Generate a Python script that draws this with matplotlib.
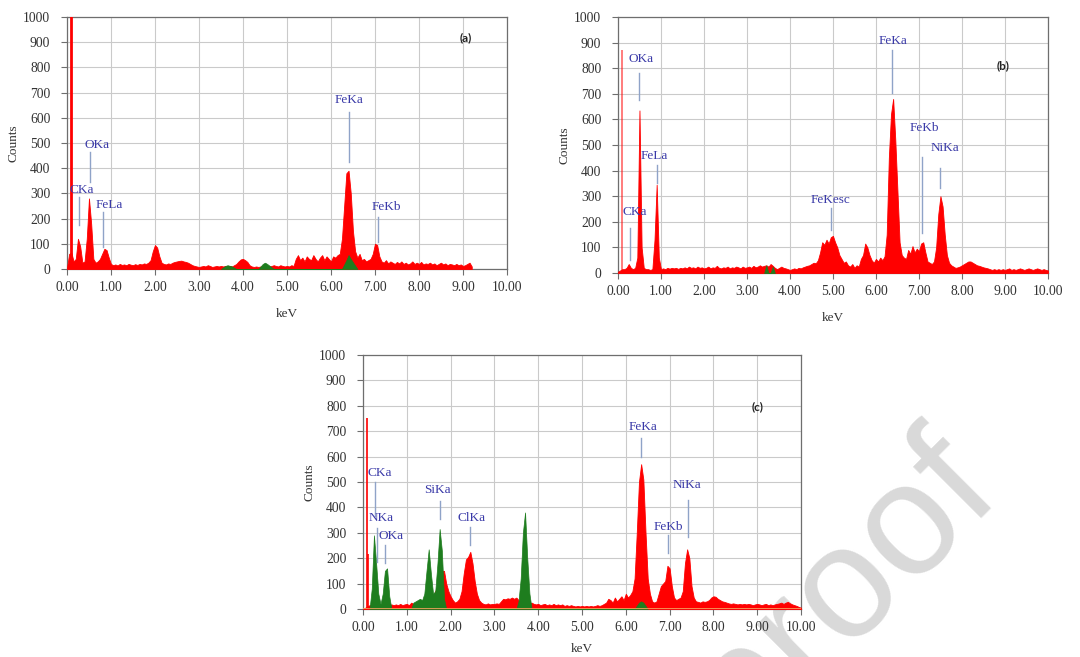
import numpy as np
import matplotlib
matplotlib.use("Agg")
import matplotlib.pyplot as plt

E_STEP = 0.05

# ---- panel (a) -- spectrum ends at 9.20 keV
counts_a = [
    5, 60, 65, 30, 40, 120, 90, 25, 30, 120, 280, 180, 40, 25, 30, 40, 60, 80, 75, 45,      # 0.00-0.95
    20, 15, 18, 14, 20, 16, 18, 15, 20, 17, 15, 19, 16, 20, 18, 22, 20, 25, 35, 70,         # 1.00-1.95
    95, 85, 50, 25, 20, 18, 22, 20, 25, 28, 30, 32, 33, 30, 28, 25, 20, 15, 12, 10,         # 2.00-2.95
    8, 10, 12, 10, 15, 12, 8, 10, 12, 10, 12, 10, 12, 10, 12, 10, 15, 20, 30, 38,           # 3.00-3.95
    40, 35, 28, 15, 10, 8, 10, 8, 10, 8, 10, 8, 10, 12, 15, 12, 10, 15, 12, 10,             # 4.00-4.95
    12, 10, 15, 12, 40, 55, 35, 45, 30, 50, 40, 35, 55, 40, 30, 45, 55, 35, 50, 40,         # 5.00-5.95
    30, 50, 45, 55, 60, 120, 250, 380, 390, 300, 150, 70, 45, 60, 35, 40, 30, 35, 40, 60,   # 6.00-6.95
    100, 95, 50, 30, 25, 35, 22, 30, 25, 20, 28, 22, 30, 20, 25, 18, 22, 30, 20, 25,        # 7.00-7.95
    20, 28, 18, 22, 20, 25, 18, 22, 15, 20, 25, 18, 22, 15, 20, 18, 15, 20, 15, 18,         # 8.00-8.95
    12, 15, 20, 25, 10,                                                                     # 9.00-9.20
]
green_a_e = [3.50, 3.60, 3.65, 3.75, 3.85, 4.35, 4.45, 4.50, 4.55, 4.70, 6.25, 6.35, 6.40, 6.45, 6.60]
green_a_c = [0, 12, 15, 10, 0, 0, 20, 25, 20, 0, 0, 35, 55, 40, 0]
spike_a_e, spike_a_c = [0.09], [1100]
labels_a = ["CKa", "OKa", "FeLa", "FeKa", "FeKb"]
label_pos_a = [(0.34, 313), (0.68, 492), (0.96, 254), (6.42, 670), (7.27, 246)]
marker_a = [(0.28, 286, 175), (0.52, 464, 345), (0.82, 226, 87), (6.40, 623, 425), (7.06, 206, 107)]

# ---- panel (b)
counts_b = [
    5, 10, 15, 15, 20, 35, 20, 15, 20, 60, 635, 100, 20, 15, 15, 12, 15, 130, 345, 60,      # 0.00-0.95
    15, 18, 15, 20, 17, 20, 18, 20, 16, 20, 18, 22, 18, 25, 20, 22, 18, 25, 20, 22,         # 1.00-1.95
    18, 20, 25, 18, 22, 20, 28, 20, 18, 22, 20, 25, 18, 22, 20, 25, 22, 18, 25, 20,         # 2.00-2.95
    22, 25, 20, 28, 22, 25, 30, 25, 28, 30, 25, 35, 28, 20, 15, 20, 25, 20, 18, 15,         # 3.00-3.95
    12, 15, 18, 15, 20, 18, 22, 25, 28, 30, 35, 40, 38, 50, 80, 120, 110, 130, 115, 140,    # 4.00-4.95
    145, 120, 100, 70, 55, 40, 45, 30, 25, 35, 20, 30, 25, 55, 70, 115, 100, 70, 50, 40,    # 5.00-5.95
    55, 45, 60, 50, 65, 150, 450, 620, 680, 520, 320, 120, 70, 60, 55, 90, 75, 105, 80, 95, # 6.00-6.95
    85, 115, 120, 80, 45, 40, 35, 45, 100, 230, 300, 260, 150, 70, 40, 30, 25, 20, 22, 25,  # 7.00-7.95
    30, 35, 40, 45, 45, 40, 35, 30, 28, 25, 22, 20, 18, 15, 12, 15, 12, 15, 12, 15,         # 8.00-8.95
    12, 15, 18, 12, 15, 12, 15, 18, 15, 12, 15, 18, 15, 12, 15, 18, 15, 12, 15, 12,         # 9.00-9.95
    10,                                                                                     # 10.00
]
green_b_e = [3.40, 3.45, 3.50, 3.55, 3.60, 3.65]
green_b_c = [0, 30, 0, 0, 25, 0]
spike_b_e, spike_b_c = [0.10], [870]
labels_b = ["OKa", "FeLa", "CKa", "FeKesc", "FeKa", "FeKb", "NiKa"]
label_pos_b = [(0.53, 836), (0.84, 457), (0.40, 238), (4.95, 285), (6.40, 906), (7.12, 566), (7.60, 488)]
marker_b = [(0.49, 781, 676), (0.91, 422, 351), (0.28, 176, 51), (4.95, 254, 168),
            (6.37, 871, 703), (7.07, 453, 156), (7.49, 410, 332)]

# ---- panel (c)
counts_c = [
    0, 5, 10, 15, 15, 15, 15, 15, 15, 15, 15, 15, 15, 18, 15, 18, 15, 20, 15, 18,           # 0.00-0.95
    20, 15, 25, 20, 20, 25, 25, 30, 30, 40, 40, 40, 50, 70, 90, 120, 150, 150, 100, 70,     # 1.00-1.95
    50, 35, 25, 30, 40, 70, 140, 195, 205, 225, 180, 110, 60, 35, 25, 20, 18, 22, 18, 20,   # 2.00-2.95
    20, 22, 20, 30, 40, 38, 42, 40, 45, 40, 45, 35, 20, 20, 20, 20, 20, 25, 20, 18,         # 3.00-3.95
    20, 15, 18, 20, 15, 18, 15, 20, 15, 18, 15, 18, 12, 15, 12, 15, 12, 10, 12, 10,         # 4.00-4.95
    12, 10, 12, 10, 12, 10, 12, 15, 12, 15, 20, 25, 40, 35, 25, 45, 30, 40, 50, 35,         # 5.00-5.95
    60, 45, 55, 70, 120, 300, 500, 570, 510, 300, 120, 60, 30, 25, 30, 60, 90, 100, 110, 170, # 6.00-6.95
    160, 90, 45, 35, 40, 45, 70, 180, 235, 200, 90, 45, 30, 28, 25, 30, 28, 30, 35, 45,     # 7.00-7.95
    50, 48, 40, 35, 30, 28, 25, 22, 20, 22, 20, 18, 20, 18, 20, 18, 20, 18, 15, 18,         # 8.00-8.95
    20, 18, 15, 18, 20, 15, 18, 15, 18, 20, 22, 25, 20, 25, 28, 22, 18, 15, 12, 8,          # 9.00-9.95
    5,                                                                                      # 10.00
]
green_c_e = [0.15, 0.20, 0.25, 0.30, 0.35, 0.40, 0.45, 0.50, 0.55, 0.60, 0.65,
             1.10, 1.15, 1.20, 1.25, 1.30, 1.35, 1.40, 1.45, 1.50, 1.55, 1.60, 1.65, 1.70, 1.75, 1.80, 1.85, 1.90,
             3.50, 3.55, 3.60, 3.65, 3.70, 3.75, 3.80, 3.85,
             6.20, 6.30, 6.35, 6.40, 6.50]
green_c_c = [0, 80, 290, 180, 60, 20, 60, 150, 160, 50, 0,
             0, 25, 30, 35, 40, 35, 60, 150, 235, 140, 60, 70, 180, 315, 230, 40, 0,
             0, 30, 120, 300, 380, 200, 60, 0,
             0, 25, 30, 25, 0]
spike_c_e, spike_c_c = [0.10, 0.12], [750, 215]
labels_c = ["CKa", "NKa", "OKa", "SiKa", "ClKa", "FeKa", "FeKb", "NiKa"]
label_pos_c = [(0.39, 535), (0.41, 358), (0.64, 287), (1.71, 468), (2.47, 358),
               (6.40, 717), (6.98, 323), (7.40, 488)]
marker_c = [(0.27, 500, 365), (0.31, 319, 185), (0.50, 252, 181), (1.75, 425, 354),
            (2.45, 323, 252), (6.35, 673, 598), (6.96, 291, 220), (7.42, 429, 283)]

SERIF = ["Liberation Serif", "DejaVu Serif"]
RED = "#ff0000"
GREEN = "#1e7d1e"
BLUE_TXT = "#3a3aa8"
MARK = "#8fa3c8"

fig = plt.figure(figsize=(10.8, 6.57), dpi=100)

# watermark of the journal pre-proof (only the tail end is on the page)
fig.text(0.929, 0.244, "Journal Pre-proof", rotation=45, rotation_mode="anchor",
         ha="right", va="baseline", fontsize=115, color="#d9d9d9",
         family=["Liberation Sans", "DejaVu Sans"], zorder=-1)


def draw_panel(rect, counts, g_e, g_c, sp_e, sp_c, labels, lpos, marks, tag, tagpos,
               spike_lw, spike_alpha, baseline=False, xlabelpad=10):
    ax = fig.add_axes(rect)
    ax.patch.set_alpha(0)
    e = np.arange(len(counts)) * E_STEP
    ax.fill_between(e, counts, 0, color=RED, lw=0.6, zorder=3)
    ax.vlines(sp_e, 0, sp_c, color=RED, lw=spike_lw, alpha=spike_alpha, zorder=3)
    # green overlay (separate peaks split by zero points)
    ax.fill_between(g_e, g_c, 0, color=GREEN, lw=0.5, zorder=4)
    if baseline:
        ax.axhline(0, color="#f4a460", lw=1.2, zorder=5)
    for txt, (x, y), (mx, y0, y1) in zip(labels, lpos, marks):
        ax.text(x, y, txt, ha="center", va="center", color=BLUE_TXT,
                family=SERIF, fontsize=9.5, zorder=6)
        ax.plot([mx, mx], [y0, y1], color=MARK, lw=1.0, zorder=6)
    ax.text(tagpos[0], tagpos[1], tag, ha="center", va="center", fontsize=8.5,
            fontweight="bold", family=["Lato", "DejaVu Sans"], color="#222222", zorder=6)

    ax.set_xlim(0, 10)
    ax.set_ylim(0, 1000)
    ax.set_xticks(np.arange(0, 11, 1))
    ax.set_xticklabels([f"{v:.2f}" for v in range(11)])
    ax.set_yticks(np.arange(0, 1001, 100))
    ax.grid(True, color="#cacaca", lw=0.8, zorder=0)
    ax.set_axisbelow(True)
    for s in ax.spines.values():
        s.set_color("#6e6e6e")
        s.set_linewidth(0.9)
    ax.tick_params(length=4, width=0.8, color="#6e6e6e", labelsize=9.8, labelcolor="#333333")
    ax.tick_params(axis="x", pad=5)
    ax.tick_params(axis="y", pad=8)
    for lab in ax.get_xticklabels() + ax.get_yticklabels():
        lab.set_family(SERIF)
    ax.set_xlabel("keV", family=SERIF, fontsize=9.5, color="#333333", labelpad=xlabelpad)
    ax.set_ylabel("Counts", family=SERIF, fontsize=9.5, color="#333333", labelpad=3)
    return ax


draw_panel([0.0620, 0.5906, 0.4074, 0.3835], counts_a, green_a_e, green_a_c,
           spike_a_e, spike_a_c, labels_a, label_pos_a, marker_a, "(a)", (9.07, 917), 2.0, 1.0)
draw_panel([0.5722, 0.5845, 0.3981, 0.3896], counts_b, green_b_e, green_b_c,
           spike_b_e, spike_b_c, labels_b, label_pos_b, marker_b, "(b)", (8.95, 809), 1.2, 0.6)
draw_panel([0.3361, 0.0731, 0.4056, 0.3866], counts_c, green_c_e, green_c_c,
           spike_c_e, spike_c_c, labels_c, label_pos_c, marker_c, "(c)", (9.0, 795), 1.2, 1.0,
           baseline=True, xlabelpad=6)

fig.savefig("out.png", dpi=100)
